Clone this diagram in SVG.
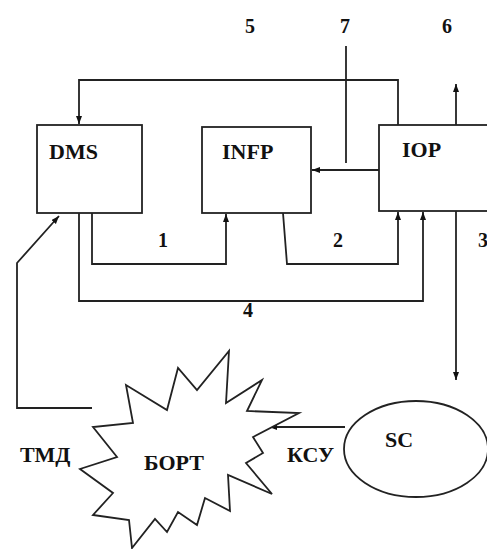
<svg xmlns="http://www.w3.org/2000/svg" width="487" height="549" viewBox="0 0 487 549">
<defs>
<marker id="ah" markerUnits="userSpaceOnUse" markerWidth="9" markerHeight="7" refX="8" refY="3" orient="auto">
<path d="M0,0 L8,3 L0,6 z" fill="#111"/>
</marker>
<style>
.box{fill:#fff;stroke:#222;stroke-width:1.8}
.ln{fill:none;stroke:#222;stroke-width:1.8}
.arr{fill:none;stroke:#222;stroke-width:1.8;marker-end:url(#ah)}
.t{font-family:"Liberation Serif","Times New Roman",serif;font-weight:bold;font-size:22px;fill:#111}
.n{font-family:"Liberation Serif","Times New Roman",serif;font-weight:bold;font-size:20px;fill:#111;text-anchor:middle}
</style>
</defs>
<rect width="487" height="549" fill="#fff"/>
<g id="connectors">
<path class="arr" d="M398,125 V80 H79 V124"/>
<path class="ln" d="M346,46 V163"/>
<path class="arr" d="M379,170 H312"/>
<path class="arr" d="M456,125 V84"/>
<path class="arr" d="M92,213 V264 H226 V214"/>
<path class="arr" d="M283,213 L287,264 H398 V212"/>
<path class="arr" d="M79,213 V301 H423 V212"/>
<path class="arr" d="M456,211 V380"/>
<path class="arr" d="M92,408 H17 V263 L59,216"/>
<path class="arr" d="M345,427 H269"/>
</g>
<g id="DMS"><rect class="box" x="37" y="125" width="105" height="88"/><text class="t" x="49" y="159">DMS</text></g>
<g id="INFP"><rect class="box" x="202" y="127" width="109" height="86"/><text class="t" x="222" y="159">INFP</text></g>
<g id="IOP"><rect class="box" x="379" y="125" width="120" height="86"/><text class="t" x="402" y="157">IOP</text></g>
<g id="BORT"><polygon class="box" points="229,351 226,403 262,380 247,411 299,413 253,437 263,453 246,463 272,494 228,475 230,511 205,498 197,525 178,512 167,532 155,519 132,548 129,520 93,515 113,493 80,469 117,457 93,427 133,423 126,385 167,410 178,368 197,390"/><text class="t" x="144" y="470">БОРТ</text></g>
<g id="SC"><ellipse class="box" cx="416" cy="449" rx="72" ry="48"/><text class="t" x="385" y="447">SC</text></g>
<g id="labels">
<text class="n" x="250" y="33">5</text>
<text class="n" x="345" y="33">7</text>
<text class="n" x="447" y="33">6</text>
<text class="n" x="163" y="247">1</text>
<text class="n" x="338" y="247">2</text>
<text class="n" x="483" y="247">3</text>
<text class="n" x="248" y="317">4</text>
<text class="t" x="20" y="462">ТМД</text>
<text class="t" x="287" y="462">КСУ</text>
</g>
</svg>
